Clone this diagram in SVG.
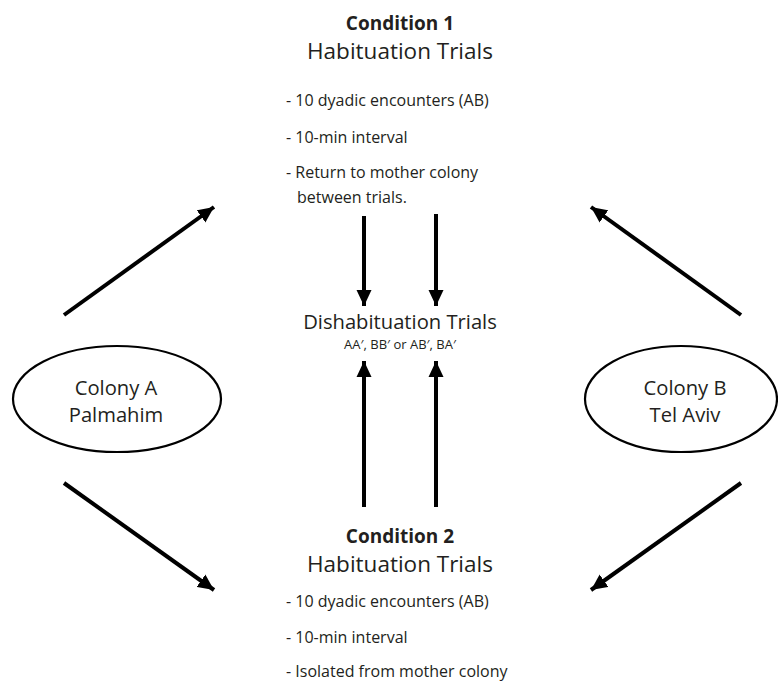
<svg xmlns="http://www.w3.org/2000/svg" width="778" height="681" viewBox="0 0 778 681">
<style>
  text { font-family: "Open Sans", "Noto Sans", "Liberation Sans", sans-serif; fill: #231f20; }
  .title { font-size: 19px; font-weight: bold; text-anchor: middle; }
  .head { font-size: 22.5px; text-anchor: middle; }
  .sub { font-size: 20.2px; text-anchor: middle; }
  .item { font-size: 16px; }
  .small { font-size: 13px; text-anchor: middle; }
  .colony { fill: #ffffff; stroke: #000000; stroke-width: 2.2; }
  .conn { stroke: #000000; stroke-width: 4; fill: none; marker-end: url(#ah); }
</style>
<defs>
  <marker id="ah" markerUnits="userSpaceOnUse" markerWidth="18" markerHeight="16" refX="16" refY="8" orient="auto">
    <path d="M0,0.5 L16,8 L0,15.5 Z" fill="#000000"/>
  </marker>
</defs>
<rect width="778" height="681" fill="#ffffff"/>

<g id="condition1">
  <text class="title" x="400" y="30">Condition 1</text>
  <text class="head" x="400" y="59">Habituation Trials</text>
  <text class="item" x="286" y="106">- 10 dyadic encounters (AB)</text>
  <text class="item" x="286" y="143">- 10-min interval</text>
  <text class="item" x="286" y="178">- Return to mother colony</text>
  <text class="item" x="297" y="203">between trials.</text>
</g>

<g id="dishabituation">
  <text class="sub" x="400" y="329">Dishabituation Trials</text>
  <text class="small" x="400" y="349">AA′, BB′ or AB′, BA′</text>
</g>

<g id="colonyA">
  <ellipse class="colony" cx="117" cy="399" rx="104" ry="53"/>
  <text class="sub" x="116" y="395">Colony A</text>
  <text class="sub" x="116" y="422">Palmahim</text>
</g>

<g id="colonyB">
  <ellipse class="colony" cx="681" cy="399" rx="96" ry="53"/>
  <text class="sub" x="685" y="395">Colony B</text>
  <text class="sub" x="685" y="422">Tel Aviv</text>
</g>

<g id="condition2">
  <text class="title" x="400" y="543">Condition 2</text>
  <text class="head" x="400" y="572">Habituation Trials</text>
  <text class="item" x="286" y="607">- 10 dyadic encounters (AB)</text>
  <text class="item" x="286" y="643">- 10-min interval</text>
  <text class="item" x="286" y="677">- Isolated from mother colony</text>
</g>

<g id="connectors">
  <line class="conn" x1="64" y1="315" x2="214" y2="207"/>
  <line class="conn" x1="741" y1="315" x2="591" y2="207"/>
  <line class="conn" x1="64" y1="483" x2="214" y2="590"/>
  <line class="conn" x1="741" y1="483" x2="591" y2="590"/>
  <line class="conn" x1="364" y1="216" x2="364" y2="306"/>
  <line class="conn" x1="436" y1="214" x2="436" y2="306"/>
  <line class="conn" x1="364" y1="507" x2="364" y2="361"/>
  <line class="conn" x1="436" y1="507" x2="436" y2="361"/>
</g>
</svg>
